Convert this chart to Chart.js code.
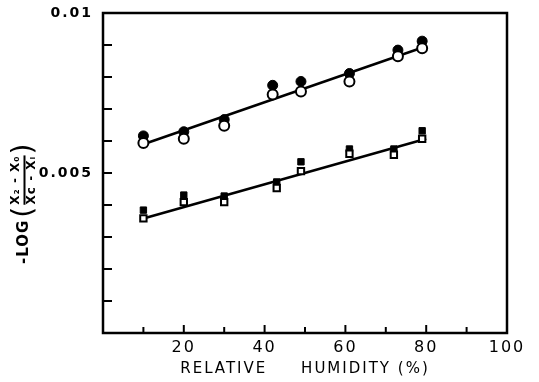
<!DOCTYPE html>
<html>
<head>
<meta charset="utf-8">
<script src="https://cdn.jsdelivr.net/npm/chart.js@4"></script>
<style>
  html, body { margin: 0; padding: 0; background: #fff; }
  #wrap { width: 539px; height: 382px; }
</style>
</head>
<body>
<div id="wrap"><canvas id="chart" width="539" height="382"></canvas></div>
<script>
// Data
const humidityCircles = [10, 20, 30, 42, 49, 61, 73, 79];
const filledCircles = [0.00616, 0.00629, 0.00667, 0.00774, 0.00786, 0.00811, 0.00884, 0.00912];
const openCircles = [0.00594, 0.00607, 0.00648, 0.00745, 0.00755, 0.00786, 0.00865, 0.00890];

const humiditySquares = [10, 20, 30, 43, 49, 61, 72, 79];
const filledSquares = [0.00384, 0.00431, 0.00428, 0.00472, 0.00535, 0.00575, 0.00575, 0.00632];
const openSquares = [0.00358, 0.00409, 0.00409, 0.00453, 0.00506, 0.00560, 0.00557, 0.00607];

// fitted lines (end points)
const fitX = [10, 80];
const fitUpper = [0.00590, 0.00896];
const fitLower = [0.00358, 0.00607];

const xTickLabels = [20, 40, 60, 80, 100];
const yTickLabels = [0.005, 0.01];

const pts = (xs, ys) => xs.map((x, i) => ({ x: x, y: ys[i] }));

// wider lettering, like the stencil text of the original
const spacingPlugin = {
  id: 'spacing',
  beforeDraw(chart) { chart.ctx.letterSpacing = '2px'; }
};

// inward ticks, frame and the y title with a fraction
const framePlugin = {
  id: 'frame',
  afterDraw(chart) {
    const ctx = chart.ctx;
    const a = chart.chartArea;
    const xs = chart.scales.x, ys = chart.scales.y;
    ctx.save();
    ctx.strokeStyle = '#000';
    ctx.lineWidth = 2.5;
    ctx.strokeRect(a.left, a.top, a.right - a.left, a.bottom - a.top);
    ctx.lineWidth = 2;
    xs.ticks.forEach(t => {
      if (t.value <= xs.min || t.value >= xs.max) return;
      const px = xs.getPixelForValue(t.value);
      const len = t.value % 20 === 0 ? 8 : 6;
      ctx.beginPath();
      ctx.moveTo(px, a.bottom);
      ctx.lineTo(px, a.bottom - len);
      ctx.stroke();
    });
    ys.ticks.forEach(t => {
      if (t.value <= ys.min + 1e-9 || t.value >= ys.max - 1e-9) return;
      const py = ys.getPixelForValue(t.value);
      ctx.beginPath();
      ctx.moveTo(a.left, py);
      ctx.lineTo(a.left + 9, py);
      ctx.stroke();
    });

    // y axis title: -LOG ( (X2 - X0) / (Xc - Xi) )
    ctx.letterSpacing = '1px';
    ctx.translate(24, 264);
    ctx.rotate(-Math.PI / 2);
    ctx.fillStyle = '#000';
    ctx.textBaseline = 'middle';
    ctx.textAlign = 'left';
    ctx.font = 'bold 15px "DejaVu Sans"';
    let x = 0;
    ctx.fillText('-LOG', x, 0);
    x += ctx.measureText('-LOG').width + 2;
    ctx.font = '28px "DejaVu Sans"';
    ctx.fillText('(', x, 1);
    x += ctx.measureText('(').width + 1;
    ctx.font = 'bold 12px "DejaVu Sans"';
    const num = 'X\u2082 - X\u2080';
    const den = 'Xc - X\u1d62';
    const w = Math.max(ctx.measureText(num).width, ctx.measureText(den).width);
    ctx.textAlign = 'center';
    ctx.fillText(num, x + w / 2, -8);
    ctx.fillText(den, x + w / 2, 8);
    ctx.lineWidth = 2;
    ctx.beginPath();
    ctx.moveTo(x, 0.5);
    ctx.lineTo(x + w, 0.5);
    ctx.stroke();
    x += w + 1;
    ctx.textAlign = 'left';
    ctx.font = '28px "DejaVu Sans"';
    ctx.fillText(')', x, 1);
    ctx.restore();
  }
};

new Chart(document.getElementById('chart'), {
  type: 'scatter',
  data: {
    datasets: [
      {
        type: 'line', data: pts(fitX, fitUpper), borderColor: '#000', borderWidth: 2.5,
        pointRadius: 0, fill: false, order: 5
      },
      {
        type: 'line', data: pts(fitX, fitLower), borderColor: '#000', borderWidth: 2.5,
        pointRadius: 0, fill: false, order: 5
      },
      {
        data: pts(humidityCircles, filledCircles), pointStyle: 'circle', pointRadius: 5,
        backgroundColor: '#000', borderColor: '#000', borderWidth: 1, order: 3
      },
      {
        data: pts(humidityCircles, openCircles), pointStyle: 'circle', pointRadius: 5,
        backgroundColor: '#fff', borderColor: '#000', borderWidth: 2, order: 2
      },
      {
        data: pts(humiditySquares, filledSquares), pointStyle: 'rect', pointRadius: 4.5,
        backgroundColor: '#000', borderColor: '#000', borderWidth: 1, order: 3
      },
      {
        data: pts(humiditySquares, openSquares), pointStyle: 'rect', pointRadius: 4.5,
        backgroundColor: '#fff', borderColor: '#000', borderWidth: 2, order: 2
      }
    ]
  },
  options: {
    responsive: false,
    animation: false,
    layout: { padding: { left: 0, top: 13, right: 32, bottom: 0 } },
    plugins: { legend: { display: false }, tooltip: { enabled: false } },
    scales: {
      x: {
        type: 'linear', min: 0, max: 100,
        afterFit: s => { s.height = 49; },
        border: { display: false },
        grid: { display: false },
        ticks: {
          stepSize: 10, autoSkip: false, maxRotation: 0, padding: -3,
          color: '#000', font: { family: 'DejaVu Sans', size: 16 },
          callback: v => xTickLabels.includes(v) ? String(v) : ''
        },
        title: {
          display: true, text: 'RELATIVE     HUMIDITY (%)', color: '#000',
          font: { family: 'DejaVu Sans', size: 15 }, padding: { top: 4 }
        }
      },
      y: {
        type: 'linear', min: 0, max: 0.01,
        afterFit: s => { s.width = 103; },
        border: { display: false },
        grid: { display: false },
        ticks: {
          stepSize: 0.001, autoSkip: false, padding: 2,
          color: '#000', font: { family: 'DejaVu Sans', size: 14, weight: 'bold' },
          callback: v => yTickLabels.some(t => Math.abs(t - v) < 1e-9) ? String(+v.toFixed(3)) : ''
        }
      }
    }
  },
  plugins: [spacingPlugin, framePlugin]
});
</script>
</body>
</html>
